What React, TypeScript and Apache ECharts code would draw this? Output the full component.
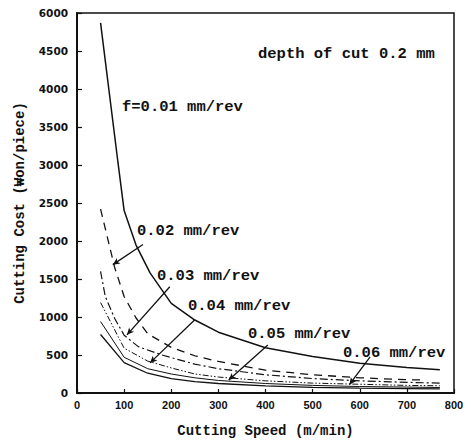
import React, { useEffect, useRef } from "react";
import * as echarts from "echarts";

const yTickLabels = ["0", "500", "1000", "1500", "2000", "2500", "3000", "3500", "4000", "4500", "6000"];
const xTickLabels = ["0", "100", "200", "300", "400", "500", "600", "700", "800"];

const f001Speed = [50, 87, 100, 125, 155, 200, 250, 300, 400, 500, 600, 700, 770];
const f001Cost = [4870, 3030, 2400, 1950, 1580, 1180, 960, 800, 595, 480, 390, 335, 305];

const f002Speed = [50, 80, 100, 125, 150, 200, 250, 300, 400, 500, 600, 700, 740];
const f002Cost = [2420, 1650, 1270, 990, 780, 600, 490, 415, 300, 240, 200, 175, 170];

const f003Speed = [50, 60, 80, 100, 130, 180, 250, 300, 400, 500, 600, 700, 770];
const f003Cost = [1600, 1270, 980, 760, 610, 500, 380, 320, 240, 190, 160, 140, 130];

const lowSpeed = [50, 100, 150, 200, 250, 300, 400, 500, 600, 700, 770];
const f004Cost = [1190, 590, 420, 330, 250, 210, 160, 130, 115, 100, 95];
const f005Cost = [940, 470, 320, 250, 200, 165, 125, 100, 85, 78, 72];
const f006Cost = [770, 400, 260, 190, 150, 125, 95, 75, 65, 58, 55];

const labelTexts = ["f=0.01 mm/rev", "0.02 mm/rev", "0.03 mm/rev", "0.04 mm/rev", "0.05 mm/rev", "0.06 mm/rev"];
const noteText = "depth of cut 0.2 mm";

// leader lines [from, to] in data units
const leaderFrom = [[140, 1953], [197, 1398], [250, 963], [405, 633], [622, 475]];
const leaderTo = [[76, 1689], [106, 765], [155, 396], [322, 170], [578, 110]];

const ink = "#111";
const mono = "Liberation Mono, Courier New, monospace";

function zip(xs: number[], ys: number[]) {
  return xs.map((x, i) => [x, ys[i]]);
}

export default function App() {
  const ref = useRef<HTMLDivElement>(null);
  useEffect(() => {
    if (!ref.current) return;
    const chart = echarts.init(ref.current, null, { renderer: "svg" });
    const mk = (data: number[][], type: any, width: number) => ({
      type: "line",
      data,
      symbol: "none",
      smooth: false,
      lineStyle: { color: ink, width, type },
      z: 3,
    });
    const series: any[] = [
      mk(zip(f001Speed, f001Cost), "solid", 1.5),
      mk(zip(f002Speed, f002Cost), [8, 6], 1.3),
      mk(zip(f003Speed, f003Cost), [8, 3, 2, 3], 1.2),
      mk(zip(lowSpeed, f004Cost), [6, 2, 1.5, 2, 1.5, 2], 1.0),
      mk(zip(lowSpeed, f005Cost), "solid", 1.0),
      mk(zip(lowSpeed, f006Cost), "solid", 1.3),
    ];
    series.push({
      type: "line",
      data: [],
      markLine: {
        silent: true,
        symbol: ["none", "arrow"],
        symbolSize: [5, 7],
        label: { show: false },
        lineStyle: { color: ink, width: 1.3, type: "solid" },
        data: leaderFrom.map((p, i) => [{ coord: p }, { coord: leaderTo[i] }]),
      },
    });
    const txt = (x: number, y: number, s: string) => ({
      type: "text",
      left: x,
      top: y - 9,
      style: { text: s, fontFamily: mono, fontWeight: "bold", fontSize: 15.5, fill: ink },
    });
    const labelPos = [[122, 108], [137, 232], [157, 277], [188, 307], [248, 335], [343, 354]];
    chart.setOption({
      animation: false,
      backgroundColor: "#fff",
      grid: { left: 77, right: 17, top: 13, bottom: 50, show: true, borderColor: ink, borderWidth: 1.5 },
      xAxis: {
        type: "value",
        min: 0,
        max: 800,
        interval: 100,
        name: "Cutting Speed (m/min)",
        nameLocation: "middle",
        nameGap: 31,
        nameTextStyle: { fontFamily: mono, fontWeight: "bold", fontSize: 14, color: ink },
        axisLine: { show: true, lineStyle: { color: ink, width: 2 } },
        axisTick: { show: true, inside: true, length: 4, lineStyle: { color: ink, width: 1.2 } },
        axisLabel: {
          margin: 6,
          fontFamily: "Liberation Sans, Arial, sans-serif",
          fontWeight: "bold",
          fontSize: 11,
          color: ink,
          formatter: (v: number) => xTickLabels[Math.round(v / 100)] ?? "",
        },
        splitLine: { show: false },
      },
      yAxis: {
        type: "value",
        min: 0,
        max: 5000,
        interval: 500,
        name: "Cutting Cost (₩on/piece)",
        nameLocation: "middle",
        nameGap: 50,
        nameTextStyle: { fontFamily: mono, fontWeight: "bold", fontSize: 14, color: ink },
        axisLine: { show: true, lineStyle: { color: ink, width: 2 } },
        axisTick: { show: true, inside: true, length: 5, lineStyle: { color: ink, width: 1.2 } },
        axisLabel: {
          margin: 9,
          fontFamily: "DejaVu Sans, sans-serif",
          fontWeight: "bold",
          fontSize: 10.5,
          color: ink,
          formatter: (v: number) => yTickLabels[Math.round(v / 500)] ?? "",
        },
        splitLine: { show: false },
      },
      graphic: [
        txt(258, 55, noteText),
        ...labelTexts.map((s, i) => txt(labelPos[i][0], labelPos[i][1], s)),
      ],
      series,
    });
    return () => chart.dispose();
  }, []);
  return (
    <div
      ref={ref}
      style={{ position: "fixed", left: 0, top: 0, width: 471, height: 443, background: "#fff" }}
    />
  );
}
